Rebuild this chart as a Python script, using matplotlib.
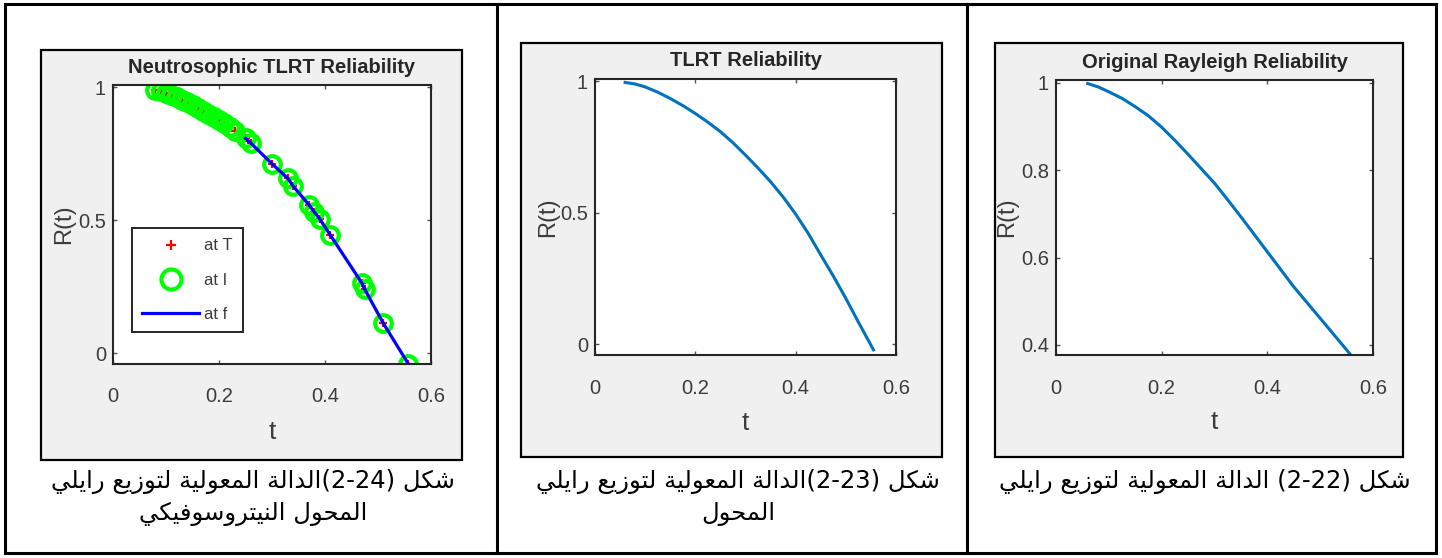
import re
import matplotlib
matplotlib.use("Agg")
import matplotlib.pyplot as plt
from matplotlib.patches import Rectangle
from matplotlib.lines import Line2D

# ---- data ----
t_neu = [0.08, 0.09, 0.10, 0.11, 0.12, 0.13, 0.14, 0.15, 0.16, 0.17, 0.18, 0.19,
         0.20, 0.21, 0.22, 0.23, 0.25, 0.26, 0.30, 0.33, 0.34, 0.37, 0.38, 0.39,
         0.41, 0.47, 0.475, 0.51, 0.557]
r_neu = [0.990, 0.985, 0.978, 0.970, 0.962, 0.953, 0.944, 0.934, 0.923, 0.912, 0.901, 0.889,
         0.877, 0.864, 0.850, 0.836, 0.808, 0.790, 0.712, 0.657, 0.628, 0.557, 0.530, 0.505,
         0.444, 0.262, 0.240, 0.112, -0.040]
line_start = 0.25   # blue "at f" line only drawn from here on

t_tlrt = [0.06, 0.08, 0.10, 0.125, 0.15, 0.175, 0.20, 0.225, 0.25, 0.275, 0.30,
          0.325, 0.35, 0.375, 0.40, 0.425, 0.45, 0.475, 0.50, 0.525, 0.555]
r_tlrt = [0.995, 0.989, 0.978, 0.958, 0.934, 0.907, 0.877, 0.844, 0.808, 0.766, 0.719,
          0.670, 0.618, 0.560, 0.495, 0.422, 0.340, 0.260, 0.175, 0.085, -0.02]

t_ray = [0.06, 0.08, 0.10, 0.125, 0.15, 0.175, 0.20, 0.225, 0.25, 0.275, 0.30,
         0.325, 0.35, 0.375, 0.40, 0.425, 0.45, 0.475, 0.50, 0.525, 0.556]
r_ray = [0.998, 0.990, 0.979, 0.964, 0.945, 0.924, 0.898, 0.868, 0.836, 0.803, 0.770,
         0.732, 0.693, 0.653, 0.613, 0.573, 0.533, 0.497, 0.461, 0.425, 0.38]

titles = ["Neutrosophic TLRT Reliability", "TLRT Reliability", "Original Rayleigh Reliability"]
x_ticks = [0, 0.2, 0.4, 0.6]
x_labels = ["0", "0.2", "0.4", "0.6"]
y_ticks_a = [0, 0.5, 1]
y_labels_a = ["0", "0.5", "1"]
y_ticks_b = [0.4, 0.6, 0.8, 1]
y_labels_b = ["0.4", "0.6", "0.8", "1"]
legend_labels = ["at T", "at I", "at f"]

captions = [
    ["شكل (2-24)الدالة المعولية لتوزيع رايلي", "المحول النيتروسوفيكي"],
    ["شكل (2-23)الدالة المعولية لتوزيع رايلي", "المحول"],
    ["شكل (2-22) الدالة المعولية لتوزيع رايلي"],
]

# ---- minimal Arabic shaping + right-to-left ordering ----
FORMS = {
    'ا': ('\ufe8d', '\ufe8e'),
    'ب': ('\ufe8f', '\ufe90', '\ufe91', '\ufe92'),
    'ة': ('\ufe93', '\ufe94'),
    'ت': ('\ufe95', '\ufe96', '\ufe97', '\ufe98'),
    'ح': ('\ufea1', '\ufea2', '\ufea3', '\ufea4'),
    'د': ('\ufea9', '\ufeaa'),
    'ر': ('\ufead', '\ufeae'),
    'ز': ('\ufeaf', '\ufeb0'),
    'س': ('\ufeb1', '\ufeb2', '\ufeb3', '\ufeb4'),
    'ش': ('\ufeb5', '\ufeb6', '\ufeb7', '\ufeb8'),
    'ع': ('\ufec9', '\ufeca', '\ufecb', '\ufecc'),
    'ف': ('\ufed1', '\ufed2', '\ufed3', '\ufed4'),
    'ك': ('\ufed9', '\ufeda', '\ufedb', '\ufedc'),
    'ل': ('\ufedd', '\ufede', '\ufedf', '\ufee0'),
    'م': ('\ufee1', '\ufee2', '\ufee3', '\ufee4'),
    'ن': ('\ufee5', '\ufee6', '\ufee7', '\ufee8'),
    'و': ('\ufeed', '\ufeee'),
    'ي': ('\ufef1', '\ufef2', '\ufef3', '\ufef4'),
}


def arabic(text):
    out = []
    for i, c in enumerate(text):
        f = FORMS.get(c)
        if f is None:
            out.append(c)
            continue
        prev = text[i - 1] if i > 0 else ''
        nxt = text[i + 1] if i + 1 < len(text) else ''
        jp = prev in FORMS and len(FORMS[prev]) == 4
        jn = len(f) == 4 and nxt in FORMS
        if jp and jn:
            out.append(f[3])
        elif jp:
            out.append(f[1])
        elif jn:
            out.append(f[2])
        else:
            out.append(f[0])
    tokens = re.findall(r'\d+(?:-\d+)*|.', ''.join(out))
    mirror = {'(': ')', ')': '('}
    return ''.join(mirror.get(tk, tk) for tk in reversed(tokens))


# ---- layout (pixels of the 1442x558 picture) ----
W, H = 1442, 558
plt.rcParams['font.family'] = ['Liberation Sans', 'DejaVu Sans']
gray = '#3c3c3c'


def frac(x0, y0, x1, y1):
    return [x0 / W, 1 - y1 / H, (x1 - x0) / W, (y1 - y0) / H]


fig = plt.figure(figsize=(W / 100, H / 100), dpi=100)
fig.patch.set_facecolor('white')

panels = [(41, 50, 462, 460), (521, 43, 942, 457), (995, 43, 1403, 457)]
axes_px = [(113, 85.4, 431, 363.7), (595, 79, 896, 355), (1056, 80, 1373, 355)]
ylims = [(-0.04, 1.007), (-0.04, 1.008), (0.377, 1.006)]
cap_x = [253, 738, 1205]
cap_y = [482, 514]

for x0, y0, x1, y1 in panels:
    r = frac(x0, y0, x1, y1)
    fig.add_artist(Rectangle((r[0], r[1]), r[2], r[3], transform=fig.transFigure,
                             facecolor='#f0f0f0', edgecolor='black', lw=1.6, zorder=-1))

axs = []
for i in range(3):
    ax = fig.add_axes(frac(*axes_px[i]))
    ax.set_facecolor('white')
    ax.set_xlim(0, 0.6)
    ax.set_ylim(*ylims[i])
    ax.set_xticks(x_ticks)
    ax.set_xticklabels(x_labels)
    if i < 2:
        ax.set_yticks(y_ticks_a)
        ax.set_yticklabels(y_labels_a)
    else:
        ax.set_yticks(y_ticks_b)
        ax.set_yticklabels(y_labels_b)
    ax.tick_params(direction='in', top=True, right=True, length=3, width=1,
                   color='#555555', labelcolor=gray, labelsize=14.5)
    ax.tick_params(axis='x', pad=17)
    ax.tick_params(axis='y', pad=5)
    for sp in ax.spines.values():
        sp.set_color('#262626')
        sp.set_linewidth(1.5)
    ax.set_title(titles[i], fontsize=14.5, fontweight='bold', color='#262626', pad=9)
    ax.set_xlabel('t', fontsize=19, color=gray)
    ax.xaxis.set_label_coords(0.5, -0.245)
    ax.xaxis.label.set_va('center')
    ax.set_ylabel('R(t)', fontsize=17, color=gray)
    ax.yaxis.set_label_coords(-0.155, 0.5)
    ax.yaxis.label.set_va('center')
    axs.append(ax)

# neutrosophic panel
ax = axs[0]
ax.plot(t_neu, r_neu, linestyle='none', marker='+', color='red', ms=6, mew=1.6,
        label=legend_labels[0], zorder=1.5)
ax.plot(t_neu, r_neu, linestyle='none', marker='o', mfc='none', mec='#00ff00',
        ms=12, mew=3, label=legend_labels[1], zorder=2)
t_line = [t for t in t_neu if t >= line_start]
r_line = [r for t, r in zip(t_neu, r_neu) if t >= line_start]
ax.plot(t_line, r_line, color='#0000ff', lw=2.3, label=legend_labels[2], zorder=4)
leg = ax.legend(loc='lower left', bbox_to_anchor=(0.035, 0.085), fontsize=12,
                fancybox=False, edgecolor='#262626', framealpha=1,
                handlelength=3.4, handletextpad=0.3, labelspacing=1.15,
                borderpad=0.6, markerscale=1.2)
leg.get_frame().set_linewidth(1.4)
for txt in leg.get_texts():
    txt.set_color(gray)

axs[1].plot(t_tlrt, r_tlrt, color='#0072bd', lw=2.2)
axs[2].plot(t_ray, r_ray, color='#0072bd', lw=2.2)

# captions under each panel
for i, lines in enumerate(captions):
    for j, line in enumerate(lines):
        fig.text(cap_x[i] / W, 1 - cap_y[j] / H, arabic(line), ha='center', va='center',
                 fontsize=17.5, color='black', family=['DejaVu Sans'])

# table borders
def fline(x0, y0, x1, y1, lw):
    fig.add_artist(Line2D([x0 / W, x1 / W], [1 - y0 / H, 1 - y1 / H],
                          transform=fig.transFigure, color='black', lw=lw, zorder=5))

fig.add_artist(Rectangle((5 / W, 1 - 553 / H), 1431 / W, 549 / H, transform=fig.transFigure,
                         facecolor='none', edgecolor='black', lw=2.2, zorder=5))
fline(497, 4, 497, 553, 2.2)
fline(967, 4, 967, 553, 2.2)

fig.savefig('out.png', dpi=100)
